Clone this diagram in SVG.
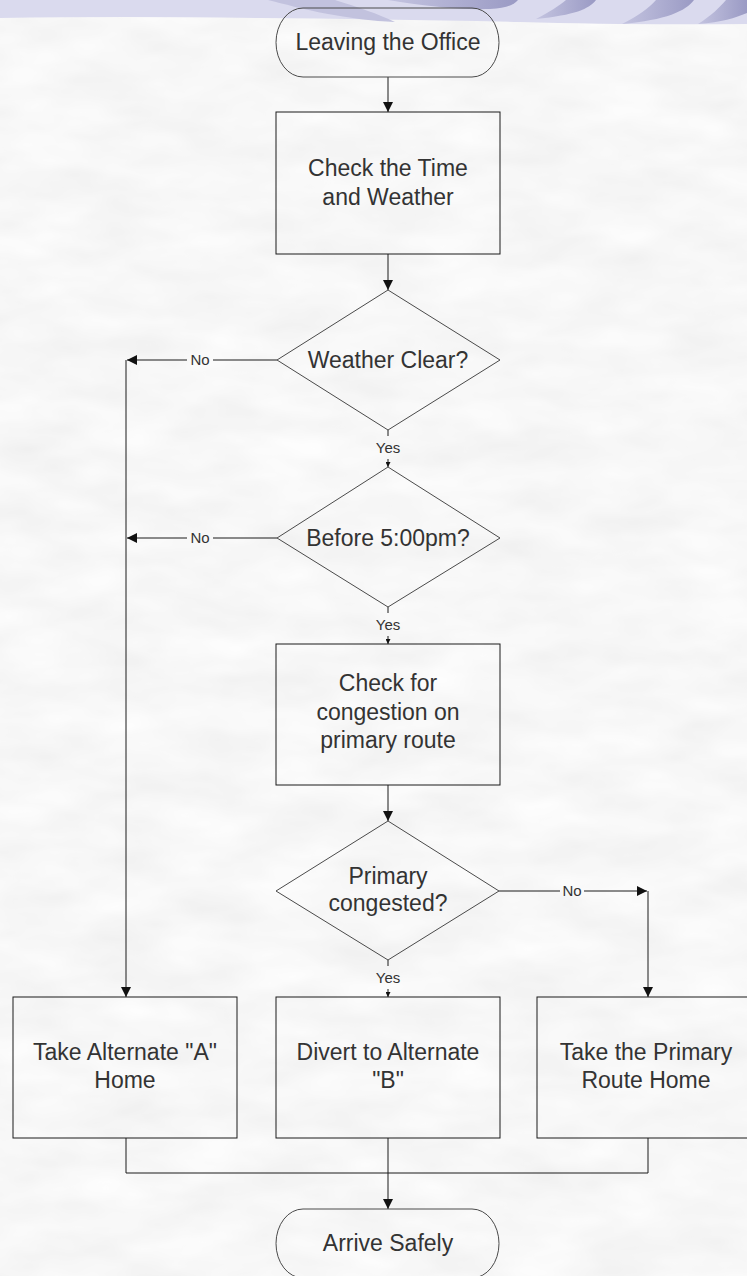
<svg xmlns="http://www.w3.org/2000/svg" width="747" height="1276" viewBox="0 0 747 1276">
  <style>
    .box { fill: none; stroke: #1a1a1a; stroke-width: 1; }
    .dia { fill: none; stroke: #4a4a4a; stroke-width: 1; }
    .term { fill: none; stroke: #4a4a4a; stroke-width: 1; }
    .t { font-family: "Liberation Sans", Arial, sans-serif; font-size: 23px; fill: #333333; text-anchor: middle; }
    .lbl { font-family: "Liberation Sans", Arial, sans-serif; font-size: 15px; fill: #333333; text-anchor: middle; }
    .c { fill: none; stroke: #1a1a1a; stroke-width: 1; }
    .ca { fill: none; stroke: #1a1a1a; stroke-width: 1; marker-end: url(#ah); }
    .cs { fill: none; stroke: #1a1a1a; stroke-width: 1; marker-end: url(#ahs); }
  </style>
  <defs>
    <marker id="ah" viewBox="0 0 10 10" refX="10" refY="5" markerWidth="10" markerHeight="10" markerUnits="userSpaceOnUse" orient="auto">
      <path d="M0,0 L10,5 L0,10 Z" fill="#111"/>
    </marker>
    <marker id="ahs" viewBox="0 0 10 10" refX="10" refY="5" markerWidth="5" markerHeight="5" markerUnits="userSpaceOnUse" orient="auto">
      <path d="M0,0 L10,5 L0,10 Z" fill="#111"/>
    </marker>
    <filter id="tex" x="0" y="0" width="100%" height="100%">
      <feTurbulence type="fractalNoise" baseFrequency="0.012 0.03" numOctaves="3" seed="7"/>
      <feColorMatrix type="matrix" values="0.14 0 0 0 0.86  0.14 0 0 0 0.86  0.14 0 0 0 0.86  0 0 0 0 1"/>
    </filter>
    <linearGradient id="sw" x1="0" y1="0" x2="1" y2="0">
      <stop offset="0" stop-color="#c4c4e0"/>
      <stop offset="1" stop-color="#9a9ac4"/>
    </linearGradient>
  </defs>

  <!-- background -->
  <rect x="0" y="0" width="747" height="1276" fill="#ececec"/>
  <rect x="0" y="0" width="747" height="1276" filter="url(#tex)"/>

  <!-- top decoration -->
  <g id="decoration">
    <path d="M0,0 H747 V24 Q620,25 520,22 Q380,19 260,18 Q120,16 0,18 Z" fill="#dadaee"/>
    <path d="M268,0 H335 C358,7 378,14 395,22 C372,21 350,18 328,14 C302,9 284,4 268,0 Z" fill="#c2c2de"/>
    <path d="M388,0 H518 C514,5 506,8 490,9 C458,10 425,6 388,0 Z" fill="url(#sw)"/>
    <path d="M566,0 H596 C589,9 575,15 536,19 C549,12 559,6 566,0 Z" fill="url(#sw)"/>
    <path d="M656,0 H694 C686,11 666,20 622,24 C638,16 649,8 656,0 Z" fill="url(#sw)"/>
    <path d="M726,0 H747 V13 C735,18 722,22 698,24 C711,16 720,7 726,0 Z" fill="url(#sw)"/>
  </g>

  <g id="connectors">
    <path class="ca" d="M388,77 V112"/>
    <path class="ca" d="M388,254 V290"/>
    <!-- Weather Clear? No -->
    <path class="c" d="M277,360 H213"/>
    <path class="ca" d="M187,360 H127"/>
    <text class="lbl" x="200" y="365">No</text>
    <path class="ca" d="M126,360 V997"/>
    <!-- Weather Clear? Yes -->
    <path class="c" d="M388,430 V436"/>
    <text class="lbl" x="388" y="453">Yes</text>
    <path class="cs" d="M388,459 V467"/>
    <!-- Before 5:00pm? No -->
    <path class="c" d="M277,538 H213"/>
    <path class="ca" d="M187,538 H127"/>
    <text class="lbl" x="200" y="543">No</text>
    <!-- Before 5:00pm? Yes -->
    <path class="c" d="M388,607 V613"/>
    <text class="lbl" x="388" y="630">Yes</text>
    <path class="cs" d="M388,636 V644"/>
    <path class="ca" d="M388,785 V821"/>
    <!-- Primary congested? Yes -->
    <path class="c" d="M388,960 V966"/>
    <text class="lbl" x="388" y="983">Yes</text>
    <path class="cs" d="M388,989 V997"/>
    <!-- Primary congested? No -->
    <path class="c" d="M499,891 H560"/>
    <text class="lbl" x="572" y="896">No</text>
    <path class="ca" d="M584,891 H647"/>
    <path class="ca" d="M648,891 V997"/>
    <!-- merge to Arrive Safely -->
    <path class="c" d="M126,1138 V1173 H648 V1138"/>
    <path class="ca" d="M388,1138 V1209"/>
  </g>

  <g id="n-start">
    <path class="term" d="M303,8 H472 A27,34.5 0 0 1 472,77 H303 A27,34.5 0 0 1 303,8 Z"/>
    <text class="t" x="388" y="50">Leaving the Office</text>
  </g>

  <g id="n-check-time">
    <rect class="box" x="276" y="112" width="224" height="142"/>
    <text class="t" x="388" y="176">Check the Time</text>
    <text class="t" x="388" y="205">and Weather</text>
  </g>

  <g id="n-weather">
    <path class="dia" d="M388,290 L500,360 L388,430 L277,360 Z"/>
    <text class="t" x="388" y="368">Weather Clear?</text>
  </g>

  <g id="n-before5">
    <path class="dia" d="M388,467 L500,538 L388,607 L277,538 Z"/>
    <text class="t" x="388" y="546">Before 5:00pm?</text>
  </g>

  <g id="n-check-congestion">
    <rect class="box" x="276" y="644" width="224" height="141"/>
    <text class="t" x="388" y="691">Check for</text>
    <text class="t" x="388" y="720">congestion on</text>
    <text class="t" x="388" y="748">primary route</text>
  </g>

  <g id="n-congested">
    <path class="dia" d="M388,821 L499,891 L388,960 L276,891 Z"/>
    <text class="t" x="388" y="884">Primary</text>
    <text class="t" x="388" y="911">congested?</text>
  </g>

  <g id="n-alt-a">
    <rect class="box" x="13" y="997" width="224" height="141"/>
    <text class="t" x="125" y="1060">Take Alternate "A"</text>
    <text class="t" x="125" y="1088">Home</text>
  </g>

  <g id="n-alt-b">
    <rect class="box" x="276" y="997" width="224" height="141"/>
    <text class="t" x="388" y="1060">Divert to Alternate</text>
    <text class="t" x="388" y="1088">"B"</text>
  </g>

  <g id="n-primary">
    <rect class="box" x="537" y="997" width="224" height="141"/>
    <text class="t" x="646" y="1060">Take the Primary</text>
    <text class="t" x="646" y="1088">Route Home</text>
  </g>

  <g id="n-end">
    <path class="term" d="M303,1209 H472 A27,34.5 0 0 1 472,1278 H303 A27,34.5 0 0 1 303,1209 Z"/>
    <text class="t" x="388" y="1251">Arrive Safely</text>
  </g>
</svg>
